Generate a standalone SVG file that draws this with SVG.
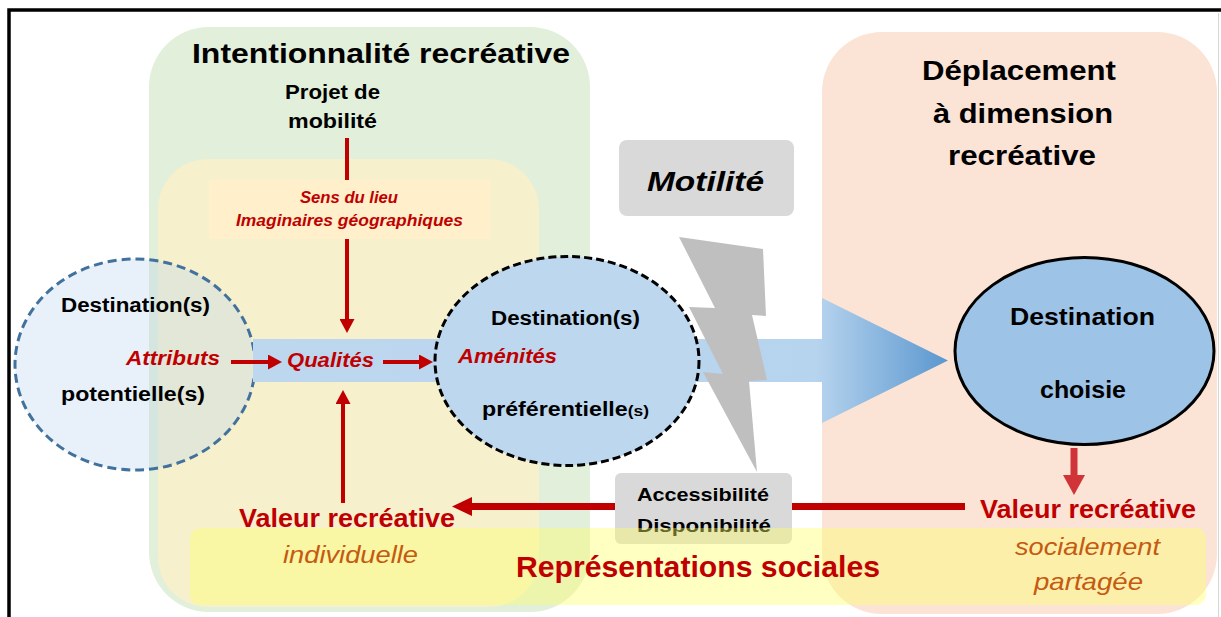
<svg xmlns="http://www.w3.org/2000/svg" width="1221" height="617" viewBox="0 0 1221 617">
<style>
text{font-family:"Liberation Sans",Arial,sans-serif;font-weight:bold;}
.blk{fill:#000;}
.red{fill:#c00000;}
.redi{fill:#c00000;font-style:italic;}
.ora{fill:#c55a11;font-style:italic;font-weight:normal;}
.rl{stroke:#c00000;fill:none;}
</style>
<defs>
<linearGradient id="bandGrad" gradientUnits="userSpaceOnUse" x1="253" y1="0" x2="948" y2="0">
<stop offset="0" stop-color="#bdd7ee"/>
<stop offset="0.81" stop-color="#b7d4ee"/>
<stop offset="1" stop-color="#5b97cf"/>
</linearGradient>
<marker id="ahS" markerUnits="userSpaceOnUse" markerWidth="14" markerHeight="15" refX="0" refY="7.5" orient="auto" viewBox="0 0 14 15">
<path d="M0,0 L14,7.5 L0,15 Z" fill="#c00000"/>
</marker>
<marker id="ahB" markerUnits="userSpaceOnUse" markerWidth="20" markerHeight="19" refX="0" refY="9.5" orient="auto" viewBox="0 0 20 19">
<path d="M0,0 L20,9.5 L0,19 Z" fill="#c00000"/>
</marker>
<marker id="ahD" markerUnits="userSpaceOnUse" markerWidth="20" markerHeight="22" refX="0" refY="11" orient="auto" viewBox="0 0 20 22">
<path d="M0,0 L20,11 L0,22 Z" fill="#d13438"/>
</marker>
</defs>
<rect width="1221" height="617" fill="#fff"/>
<g id="frame">
<path d="M9,617 V10 H1221" fill="none" stroke="#000" stroke-width="3.5"/>
<line x1="1218.5" y1="13" x2="1218.5" y2="617" stroke="#d6d6d6" stroke-width="1"/>
</g>
<g id="intentionnalite">
<rect x="149" y="27" width="441" height="585" rx="60" fill="#e2efda"/>
<text class="blk" x="192" y="63" font-size="28" textLength="378" lengthAdjust="spacingAndGlyphs">Intentionnalité recréative</text>
</g>
<g id="deplacement">
<rect x="822" y="32" width="395" height="582" rx="60" fill="#fbe4d5"/>
<text class="blk" x="922" y="80" font-size="28" textLength="194" lengthAdjust="spacingAndGlyphs">Déplacement</text>
<text class="blk" x="933" y="123" font-size="28" textLength="180" lengthAdjust="spacingAndGlyphs">à dimension</text>
<text class="blk" x="948" y="165" font-size="28" textLength="148" lengthAdjust="spacingAndGlyphs">recréative</text>
</g>
<g id="zone-imaginaire">
<rect x="158" y="159" width="381" height="448" rx="50" fill="#f6f0cd"/>
</g>
<g id="projet">
<text class="blk" x="285" y="99" font-size="20" textLength="95" lengthAdjust="spacingAndGlyphs">Projet de</text>
<text class="blk" x="288" y="128" font-size="20" textLength="89" lengthAdjust="spacingAndGlyphs">mobilité</text>
</g>
<g id="destinations-potentielles">
<ellipse cx="135" cy="364.5" rx="120" ry="105.5" fill="#bdd7ee" fill-opacity="0.35" stroke="#41719c" stroke-width="3" stroke-dasharray="9 5"/>
<text class="blk" x="61" y="312" font-size="20" textLength="149" lengthAdjust="spacingAndGlyphs">Destination(s)</text>
<text class="redi" x="126" y="365" font-size="21" textLength="94" lengthAdjust="spacingAndGlyphs">Attributs</text>
<text class="blk" x="61" y="401" font-size="20" textLength="144" lengthAdjust="spacingAndGlyphs">potentielle(s)</text>
</g>
<g id="fleche-mobilite">
<path d="M253,339 H822 V298 L948,360.5 L822,423 V382 H253 Z" fill="url(#bandGrad)"/>
</g>
<g id="qualites">
<text class="redi" x="287" y="367" font-size="20" textLength="87" lengthAdjust="spacingAndGlyphs">Qualités</text>
</g>
<g id="destinations-preferentielles">
<ellipse cx="567" cy="361" rx="132" ry="104.5" fill="#bdd7ee" stroke="#000" stroke-width="3" stroke-dasharray="8 4"/>
<text class="blk" x="491" y="325" font-size="20" textLength="149" lengthAdjust="spacingAndGlyphs">Destination(s)</text>
<text class="redi" x="458" y="363" font-size="21" textLength="99" lengthAdjust="spacingAndGlyphs">Aménités</text>
<text class="blk" x="482" y="416" font-size="20" textLength="167" lengthAdjust="spacingAndGlyphs">préférentielle<tspan font-size="15">(s)</tspan></text>
</g>
<g id="eclair">
<polygon points="679,237 763,249 766,316 752,315 767,380 749,381 757,472 703,372 723,374 689,307 715,308" fill="#bfbfbf"/>
</g>
<g id="motilite">
<rect x="619" y="140" width="175" height="76" rx="8" fill="#d9d9d9"/>
<text class="blk" x="647" y="191" font-size="28" font-style="italic" textLength="117" lengthAdjust="spacingAndGlyphs">Motilité</text>
</g>
<g id="destination-choisie">
<ellipse cx="1084.5" cy="351" rx="129.5" ry="93.5" fill="#9dc3e6" stroke="#000" stroke-width="3"/>
<text class="blk" x="1010" y="325" font-size="24" textLength="145" lengthAdjust="spacingAndGlyphs">Destination</text>
<text class="blk" x="1040" y="398" font-size="24" textLength="86" lengthAdjust="spacingAndGlyphs">choisie</text>
</g>
<g id="connectors">
<path class="rl" d="M347,138 V180 M347,239 V319" stroke-width="4" marker-end="url(#ahS)"/>
<path class="rl" d="M231,362 H268" stroke-width="4" marker-end="url(#ahS)"/>
<path class="rl" d="M383,362 H419" stroke-width="4" marker-end="url(#ahS)"/>
<path class="rl" d="M343,503 V404" stroke-width="4" marker-end="url(#ahS)"/>
<path class="rl" d="M965,506.5 H472" stroke-width="7" marker-end="url(#ahB)"/>
<path d="M1074,448 V475" fill="none" stroke="#d13438" stroke-width="7" marker-end="url(#ahD)"/>
</g>
<g id="sens-du-lieu">
<rect x="209" y="180" width="281" height="59" fill="#fff0cb"/>
<text class="redi" x="300" y="203" font-size="16" textLength="98" lengthAdjust="spacingAndGlyphs">Sens du lieu</text>
<text class="redi" x="236" y="226" font-size="16" textLength="227" lengthAdjust="spacingAndGlyphs">Imaginaires géographiques</text>
</g>
<g id="accessibilite">
<rect x="615" y="473" width="177" height="71" rx="6" fill="#d9d9d9"/>
<text class="blk" x="637" y="501" font-size="19" textLength="132" lengthAdjust="spacingAndGlyphs">Accessibilité</text>
<text class="blk" x="637" y="532" font-size="19" textLength="134" lengthAdjust="spacingAndGlyphs">Disponibilité</text>
</g>
<g id="representations-sociales">
<rect x="190" y="528" width="1016" height="77" rx="10" fill="#ffff66" fill-opacity="0.4"/>
<text class="red" x="516" y="577" font-size="30" textLength="364" lengthAdjust="spacingAndGlyphs">Représentations sociales</text>
</g>
<g id="valeur-individuelle">
<text class="red" x="239" y="527" font-size="25" textLength="216" lengthAdjust="spacingAndGlyphs">Valeur recréative</text>
<text class="ora" x="283" y="563" font-size="24" textLength="135" lengthAdjust="spacingAndGlyphs">individuelle</text>
</g>
<g id="valeur-partagee">
<text class="red" x="980" y="518" font-size="25" textLength="216" lengthAdjust="spacingAndGlyphs">Valeur recréative</text>
<text class="ora" x="1015" y="555" font-size="24" textLength="145" lengthAdjust="spacingAndGlyphs">socialement</text>
<text class="ora" x="1034" y="590" font-size="24" textLength="109" lengthAdjust="spacingAndGlyphs">partagée</text>
</g>
</svg>
